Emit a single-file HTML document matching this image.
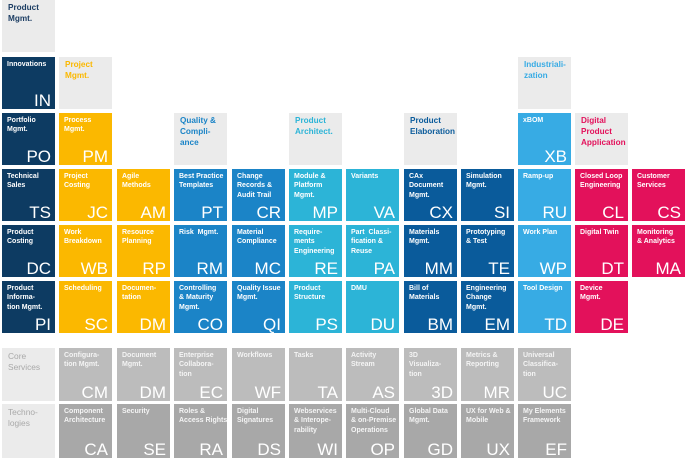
<!DOCTYPE html>
<html><head><meta charset="utf-8">
<style>
html,body{margin:0;padding:0;background:#fff;}
body{width:690px;height:467px;position:relative;overflow:hidden;font-family:"Liberation Sans",sans-serif;}
.t{position:absolute;width:53px;height:52px;overflow:hidden;box-sizing:border-box;}
.t .l{position:absolute;left:5px;top:3px;font-size:7px;font-weight:bold;line-height:9.4px;color:#fff;white-space:nowrap;}
.t .a{position:absolute;right:4px;bottom:0px;font-size:17px;line-height:17px;color:#fff;}
.h{background:#ebebeb;}
.h .l{font-size:8.2px;line-height:10.8px;left:6px;top:3px;}
.g .l{font-weight:normal;color:#a9a9a9;font-size:8.4px;line-height:10.8px;left:6px;top:3px;}
.nv{background:#0d3b62;}
.yl{background:#fbb800;}
.bl{background:#1b84c7;}
.tl{background:#2cb4d7;}
.db{background:#0a5b9b;}
.lb{background:#37abe4;}
.mg{background:#e3115b;}
.cs{background:#bcbcbc;}
.cs .l,.te .l{color:#f4f4f4;}
.te{background:#a8a8a8;}
.r6{height:53px;}
.r7{height:54px;}
</style></head><body>

<!-- Row 0 -->
<div class="t h" style="left:2px;top:0"><div class="l" style="color:#1c3d63">Product<br>Mgmt.</div></div>

<!-- Row 1 -->
<div class="t nv" style="left:2px;top:57px"><div class="l">Innovations</div><div class="a">IN</div></div>
<div class="t h" style="left:59px;top:57px"><div class="l" style="color:#fbb800">Project<br>Mgmt.</div></div>
<div class="t h" style="left:518px;top:57px"><div class="l" style="color:#37abe4">Industriali-<br>zation</div></div>

<!-- Row 2 -->
<div class="t nv" style="left:2px;top:113px"><div class="l">Portfolio<br>Mgmt.</div><div class="a">PO</div></div>
<div class="t yl" style="left:59px;top:113px"><div class="l">Process<br>Mgmt.</div><div class="a">PM</div></div>
<div class="t h" style="left:174px;top:113px"><div class="l" style="color:#1b84c7">Quality &amp;<br>Compli-<br>ance</div></div>
<div class="t h" style="left:289px;top:113px"><div class="l" style="color:#2cb4d7">Product<br>Architect.</div></div>
<div class="t h" style="left:404px;top:113px"><div class="l" style="color:#0a5b9b">Product<br>Elaboration</div></div>
<div class="t lb" style="left:518px;top:113px"><div class="l">xBOM</div><div class="a">XB</div></div>
<div class="t h" style="left:575px;top:113px"><div class="l" style="color:#e3115b">Digital<br>Product<br>Application</div></div>

<!-- Row 3 -->
<div class="t nv" style="left:2px;top:169px"><div class="l">Technical<br>Sales</div><div class="a">TS</div></div>
<div class="t yl" style="left:59px;top:169px"><div class="l">Project<br>Costing</div><div class="a">JC</div></div>
<div class="t yl" style="left:117px;top:169px"><div class="l">Agile<br>Methods</div><div class="a">AM</div></div>
<div class="t bl" style="left:174px;top:169px"><div class="l">Best Practice<br>Templates</div><div class="a">PT</div></div>
<div class="t bl" style="left:232px;top:169px"><div class="l">Change<br>Records &amp;<br>Audit Trail</div><div class="a">CR</div></div>
<div class="t tl" style="left:289px;top:169px"><div class="l">Module &amp;<br>Platform<br>Mgmt.</div><div class="a">MP</div></div>
<div class="t tl" style="left:346px;top:169px"><div class="l">Variants</div><div class="a">VA</div></div>
<div class="t db" style="left:404px;top:169px"><div class="l">CAx<br>Document<br>Mgmt.</div><div class="a">CX</div></div>
<div class="t db" style="left:461px;top:169px"><div class="l">Simulation<br>Mgmt.</div><div class="a">SI</div></div>
<div class="t lb" style="left:518px;top:169px"><div class="l">Ramp-up</div><div class="a">RU</div></div>
<div class="t mg" style="left:575px;top:169px"><div class="l">Closed Loop<br>Engineering</div><div class="a">CL</div></div>
<div class="t mg" style="left:632px;top:169px"><div class="l">Customer<br>Services</div><div class="a">CS</div></div>

<!-- Row 4 -->
<div class="t nv" style="left:2px;top:225px"><div class="l">Product<br>Costing</div><div class="a">DC</div></div>
<div class="t yl" style="left:59px;top:225px"><div class="l">Work<br>Breakdown</div><div class="a">WB</div></div>
<div class="t yl" style="left:117px;top:225px"><div class="l">Resource<br>Planning</div><div class="a">RP</div></div>
<div class="t bl" style="left:174px;top:225px"><div class="l">Risk&nbsp; Mgmt.</div><div class="a">RM</div></div>
<div class="t bl" style="left:232px;top:225px"><div class="l">Material<br>Compliance</div><div class="a">MC</div></div>
<div class="t tl" style="left:289px;top:225px"><div class="l">Require-<br>ments<br>Engineering</div><div class="a">RE</div></div>
<div class="t tl" style="left:346px;top:225px"><div class="l">Part&nbsp; Classi-<br>fication &amp;<br>Reuse</div><div class="a">PA</div></div>
<div class="t db" style="left:404px;top:225px"><div class="l">Materials<br>Mgmt.</div><div class="a">MM</div></div>
<div class="t db" style="left:461px;top:225px"><div class="l">Prototyping<br>&amp; Test</div><div class="a">TE</div></div>
<div class="t lb" style="left:518px;top:225px"><div class="l">Work Plan</div><div class="a">WP</div></div>
<div class="t mg" style="left:575px;top:225px"><div class="l">Digital Twin</div><div class="a">DT</div></div>
<div class="t mg" style="left:632px;top:225px"><div class="l">Monitoring<br>&amp; Analytics</div><div class="a">MA</div></div>

<!-- Row 5 -->
<div class="t nv" style="left:2px;top:281px"><div class="l">Product<br>Informa-<br>tion Mgmt.</div><div class="a">PI</div></div>
<div class="t yl" style="left:59px;top:281px"><div class="l">Scheduling</div><div class="a">SC</div></div>
<div class="t yl" style="left:117px;top:281px"><div class="l">Documen-<br>tation</div><div class="a">DM</div></div>
<div class="t bl" style="left:174px;top:281px"><div class="l">Controlling<br>&amp; Maturity<br>Mgmt.</div><div class="a">CO</div></div>
<div class="t bl" style="left:232px;top:281px"><div class="l">Quality Issue<br>Mgmt.</div><div class="a">QI</div></div>
<div class="t tl" style="left:289px;top:281px"><div class="l">Product<br>Structure</div><div class="a">PS</div></div>
<div class="t tl" style="left:346px;top:281px"><div class="l">DMU</div><div class="a">DU</div></div>
<div class="t db" style="left:404px;top:281px"><div class="l">Bill of<br>Materials</div><div class="a">BM</div></div>
<div class="t db" style="left:461px;top:281px"><div class="l">Engineering<br>Change<br>Mgmt.</div><div class="a">EM</div></div>
<div class="t lb" style="left:518px;top:281px"><div class="l">Tool Design</div><div class="a">TD</div></div>
<div class="t mg" style="left:575px;top:281px"><div class="l">Device<br>Mgmt.</div><div class="a">DE</div></div>

<!-- Row 6: Core Services -->
<div class="t h g r6" style="left:2px;top:348px"><div class="l">Core<br>Services</div></div>
<div class="t cs r6" style="left:59px;top:348px"><div class="l">Configura-<br>tion Mgmt.</div><div class="a">CM</div></div>
<div class="t cs r6" style="left:117px;top:348px"><div class="l">Document<br>Mgmt.</div><div class="a">DM</div></div>
<div class="t cs r6" style="left:174px;top:348px"><div class="l">Enterprise<br>Collabora-<br>tion</div><div class="a">EC</div></div>
<div class="t cs r6" style="left:232px;top:348px"><div class="l">Workflows</div><div class="a">WF</div></div>
<div class="t cs r6" style="left:289px;top:348px"><div class="l">Tasks</div><div class="a">TA</div></div>
<div class="t cs r6" style="left:346px;top:348px"><div class="l">Activity<br>Stream</div><div class="a">AS</div></div>
<div class="t cs r6" style="left:404px;top:348px"><div class="l">3D<br>Visualiza-<br>tion</div><div class="a">3D</div></div>
<div class="t cs r6" style="left:461px;top:348px"><div class="l">Metrics &amp;<br>Reporting</div><div class="a">MR</div></div>
<div class="t cs r6" style="left:518px;top:348px"><div class="l">Universal<br>Classifica-<br>tion</div><div class="a">UC</div></div>

<!-- Row 7: Technologies -->
<div class="t h g r7" style="left:2px;top:404px"><div class="l">Techno-<br>logies</div></div>
<div class="t te r7" style="left:59px;top:404px"><div class="l">Component<br>Architecture</div><div class="a">CA</div></div>
<div class="t te r7" style="left:117px;top:404px"><div class="l">Security</div><div class="a">SE</div></div>
<div class="t te r7" style="left:174px;top:404px"><div class="l">Roles &amp;<br>Access Rights</div><div class="a">RA</div></div>
<div class="t te r7" style="left:232px;top:404px"><div class="l">Digital<br>Signatures</div><div class="a">DS</div></div>
<div class="t te r7" style="left:289px;top:404px"><div class="l">Webservices<br>&amp; Interope-<br>rability</div><div class="a">WI</div></div>
<div class="t te r7" style="left:346px;top:404px"><div class="l">Multi-Cloud<br>&amp; on-Premise<br>Operations</div><div class="a">OP</div></div>
<div class="t te r7" style="left:404px;top:404px"><div class="l">Global Data<br>Mgmt.</div><div class="a">GD</div></div>
<div class="t te r7" style="left:461px;top:404px"><div class="l">UX for Web &amp;<br>Mobile</div><div class="a">UX</div></div>
<div class="t te r7" style="left:518px;top:404px"><div class="l">My Elements<br>Framework</div><div class="a">EF</div></div>

</body></html>
